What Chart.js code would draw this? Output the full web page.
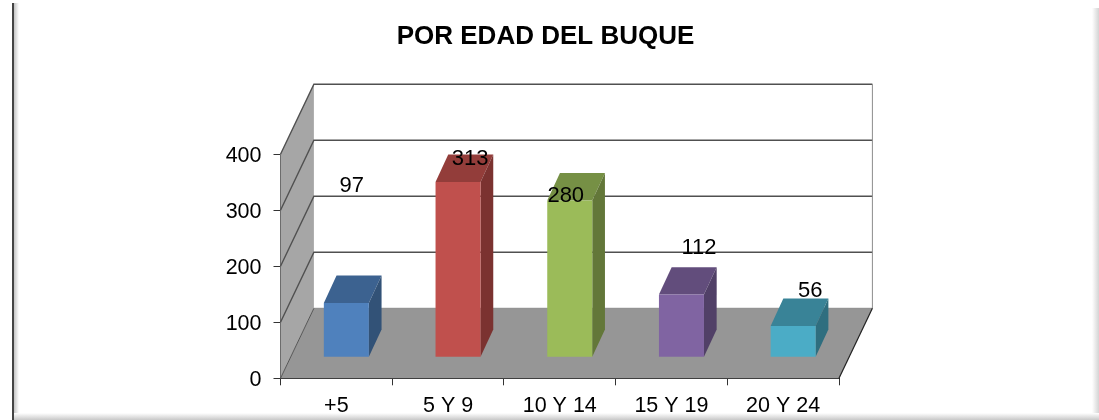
<!DOCTYPE html>
<html>
<head>
<meta charset="utf-8">
<title>Por edad del buque</title>
<script src="https://cdn.jsdelivr.net/npm/chart.js@4"></script>
<style>
  html, body { margin: 0; padding: 0; background: #fff; }
  canvas { display: block; }
</style>
</head>
<body>
<canvas id="chart" width="1099" height="420"></canvas>
<script>
// Data
const categories = ['+5', '5 Y 9', '10 Y 14', '15 Y 19', '20 Y 24'];
const values = [97, 313, 280, 112, 56];
const yTicks = [0, 100, 200, 300, 400];

// Bar colours per face
const frontColors = ['#4F81BD', '#C0504D', '#9BBB59', '#8064A2', '#4BACC6'];
const topColors = ['#3C6290', '#933D3A', '#769045', '#624D7C', '#398397'];
const sideColors = ['#325277', '#7B3230', '#637739', '#514067', '#2F6E7F'];

// Label nudges, the labels were moved by hand in the original
const labelShiftX = [5.5, 12, -4, 17.5, 17];
const labelShiftY = [-117, -23, -4, -47, -35];

const FONT = '"Liberation Sans", Arial, sans-serif';

// Fake 3D depth
const WALL_DX = 33.4, WALL_DY = -70;
const BAR_DX = 12.7, BAR_DY = -27.4;
const BAR_SHIFT_X = 10, BAR_SHIFT_Y = -21;

function poly(ctx, pts, fill) {
  ctx.beginPath();
  pts.forEach((p, i) => (i ? ctx.lineTo(p[0], p[1]) : ctx.moveTo(p[0], p[1])));
  ctx.closePath();
  ctx.fillStyle = fill;
  ctx.fill();
}

function line(ctx, pts, color, lineWidth) {
  ctx.beginPath();
  pts.forEach((p, i) => (i ? ctx.lineTo(p[0], p[1]) : ctx.moveTo(p[0], p[1])));
  ctx.strokeStyle = color;
  ctx.lineWidth = lineWidth || 1;
  ctx.stroke();
}

const frame3d = {
  id: 'frame3d',

  afterLayout(chart) {
    // Title sits a bit left of the canvas center
    chart.titleBlock.left = 0;
    chart.titleBlock.right = 1091;
  },

  beforeDraw(chart) {
    const ctx = chart.ctx;

    // Canvas middle baseline reads high, push the y labels down a touch
    chart.scales.y.getLabelItems().forEach(item => { item.options.translation[1] += 1.5; });

    ctx.save();
    // Page frame: dark left rule, soft shadow right and bottom
    let g = ctx.createLinearGradient(14, 0, 19, 0);
    g.addColorStop(0, '#c4c4c4');
    g.addColorStop(1, '#ffffff');
    ctx.fillStyle = g;
    ctx.fillRect(14, 3, 5, 417);
    ctx.fillStyle = '#444';
    ctx.fillRect(12, 3, 2, 417);

    g = ctx.createLinearGradient(1092, 0, 1099, 0);
    g.addColorStop(0, '#ffffff');
    g.addColorStop(1, '#d4d4d4');
    ctx.fillStyle = g;
    ctx.fillRect(1092, 8, 7, 412);

    g = ctx.createLinearGradient(0, 413, 0, 420);
    g.addColorStop(0, '#ffffff');
    g.addColorStop(1, '#c8c8c8');
    ctx.fillStyle = g;
    ctx.fillRect(14, 413, 1085, 7);
    ctx.restore();
  },

  beforeDatasetsDraw(chart) {
    const ctx = chart.ctx;
    const { left, right } = chart.chartArea;
    const y = chart.scales.y;
    const y0 = y.getPixelForValue(0);
    const yMax = y.getPixelForValue(yTicks[yTicks.length - 1]);
    const backL = left + WALL_DX, backR = right + WALL_DX;

    ctx.save();
    // Side wall and floor
    poly(ctx, [[left, y0], [backL, y0 + WALL_DY], [backL, yMax + WALL_DY], [left, yMax]], '#A6A6A6');
    poly(ctx, [[left, y0], [right, y0], [backR, y0 + WALL_DY], [backL, y0 + WALL_DY]], '#969696');

    // Gridlines wrap from the side wall onto the back wall
    yTicks.slice(1).forEach(t => {
      const py = y.getPixelForValue(t);
      line(ctx, [[left, py], [backL, py + WALL_DY], [backR, py + WALL_DY]], '#505050', 1.4);
    });
    line(ctx, [[backR, yMax + WALL_DY], [backR, y0 + WALL_DY]], '#8c8c8c', 1);
    line(ctx, [[backL, y0 + WALL_DY], [backR, y0 + WALL_DY]], '#8c8c8c', 1);
    line(ctx, [[left, y0], [backL, y0 + WALL_DY]], '#555', 1);
    line(ctx, [[right, y0], [backR, y0 + WALL_DY]], '#222', 1.2);

    // Top and side faces, taken from the bar elements
    chart.getDatasetMeta(0).data.forEach((bar, i) => {
      const l = bar.x - bar.width / 2 + BAR_SHIFT_X;
      const r = bar.x + bar.width / 2 + BAR_SHIFT_X;
      const t = bar.y + BAR_SHIFT_Y;
      const b = bar.base + BAR_SHIFT_Y;
      poly(ctx, [[l, t], [r, t], [r + BAR_DX, t + BAR_DY], [l + BAR_DX, t + BAR_DY]], topColors[i]);
      poly(ctx, [[r, t], [r + BAR_DX, t + BAR_DY], [r + BAR_DX, b + BAR_DY], [r, b]], sideColors[i]);
    });
    ctx.restore();

    // Front faces get drawn by Chart.js, pushed into the depth
    ctx.save();
    ctx.translate(BAR_SHIFT_X, BAR_SHIFT_Y);
  },

  afterDatasetsDraw(chart) {
    const ctx = chart.ctx;
    ctx.restore();

    ctx.save();
    ctx.font = '22px ' + FONT;
    ctx.fillStyle = '#000';
    ctx.textAlign = 'center';
    ctx.textBaseline = 'middle';
    chart.getDatasetMeta(0).data.forEach((bar, i) => {
      ctx.fillText(String(values[i]),
        bar.x + BAR_SHIFT_X + labelShiftX[i],
        bar.y + BAR_SHIFT_Y + labelShiftY[i]);
    });
    ctx.restore();
  },
};

new Chart(document.getElementById('chart').getContext('2d'), {
  type: 'bar',
  data: {
    labels: categories,
    datasets: [{
      data: values,
      backgroundColor: frontColors,
      borderWidth: 0,
      categoryPercentage: 1,
      barPercentage: 0.403,
    }],
  },
  options: {
    responsive: false,
    animation: false,
    layout: { padding: { left: 0, right: 260, top: 0, bottom: 0 } },
    plugins: {
      legend: { display: false },
      tooltip: { enabled: false },
      title: {
        display: true,
        text: 'POR EDAD DEL BUQUE',
        color: '#000',
        font: { family: FONT, size: 26, weight: 'bold', lineHeight: 1.2 },
        padding: { top: 21, bottom: 102 },
      },
    },
    scales: {
      x: {
        afterFit: scale => { scale.height = 41.7; },
        grid: { drawOnChartArea: false, tickLength: 7, color: '#333', offset: true },
        border: { color: '#222', width: 1 },
        ticks: { color: '#000', font: { family: FONT, size: 21.5 }, padding: 8, maxRotation: 0 },
      },
      y: {
        min: 0,
        max: 400,
        afterFit: scale => { scale.width = 280.5; },
        grid: { drawOnChartArea: false, tickLength: 7, color: '#333' },
        border: { color: '#333', width: 1 },
        ticks: { color: '#000', font: { family: FONT, size: 21.5 }, padding: 12, stepSize: 100 },
      },
    },
  },
  plugins: [frame3d],
});
</script>
</body>
</html>
